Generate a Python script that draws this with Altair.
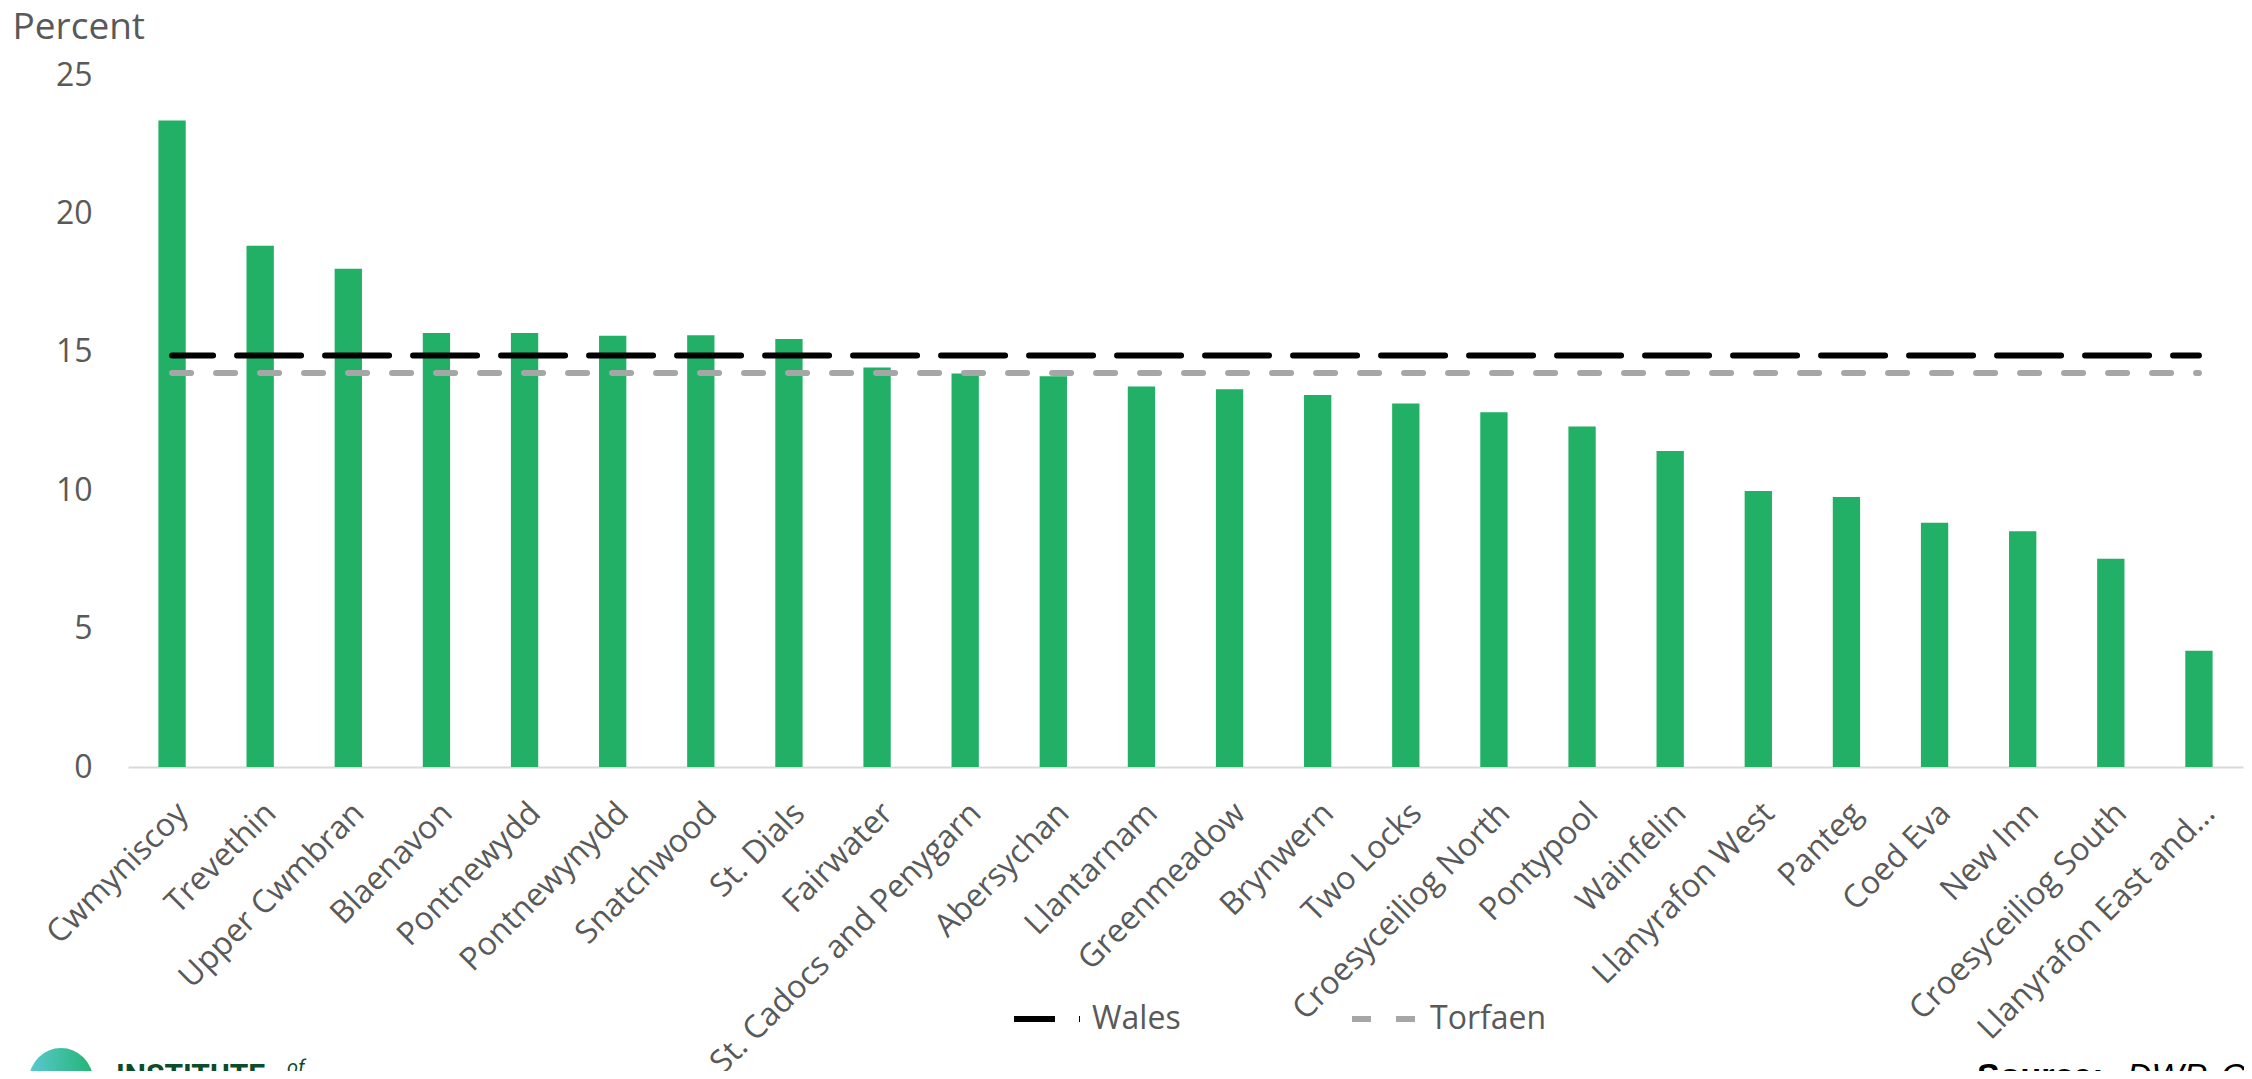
import altair as alt
import pandas as pd

categories = ["Cwmyniscoy", "Trevethin", "Upper Cwmbran", "Blaenavon", "Pontnewydd",
              "Pontnewynydd", "Snatchwood", "St. Dials", "Fairwater", "St. Cadocs and Penygarn",
              "Abersychan", "Llantarnam", "Greenmeadow", "Brynwern", "Two Locks",
              "Croesyceiliog North", "Pontypool", "Wainfelin", "Llanyrafon West", "Panteg",
              "Coed Eva", "New Inn", "Croesyceiliog South", "Llanyrafon East and\u2026"]
values = [23.36, 18.83, 18.0, 15.68, 15.68, 15.58, 15.6, 15.46, 14.43, 14.22,
          14.12, 13.75, 13.65, 13.44, 13.13, 12.82, 12.3, 11.42, 9.97, 9.75,
          8.82, 8.52, 7.52, 4.2]
series_names = ["Wales", "Torfaen"]
series_values = [14.87, 14.23]
y_ticks = [0, 5, 10, 15, 20, 25]

GREY_TXT = "#595959"
FONT = "Open Sans"

# dash patterns (Excel-like: Wales long dash with a shorter first dash, Torfaen short dash)
wales_dash = [41, 24] + [64, 24] * 24
torfaen_dash = [19, 25]

bars_df = pd.DataFrame({"ward": categories, "pct": values})
lines_rows = []
for name, v in zip(series_names, series_values):
    lines_rows.append({"series": name, "ward": categories[0], "pct": v})
    lines_rows.append({"series": name, "ward": categories[-1], "pct": v})
lines_df = pd.DataFrame(lines_rows)

x_enc = alt.X(
    "ward:N", sort=categories,
    scale=alt.Scale(paddingInner=0.69, paddingOuter=0.345),
    axis=alt.Axis(title=None, labelAngle=-45, labelAlign="right", labelBaseline="top",
                  labelPadding=30, labelFont=FONT, labelFontSize=32, labelColor=GREY_TXT,
                  ticks=False, domain=True, domainColor="#d9d9d9", domainWidth=2,
                  labelOverlap=False, labelLimit=0, grid=False),
)
y_enc = alt.Y(
    "pct:Q",
    scale=alt.Scale(domain=[0, 25], nice=False, zero=True),
    axis=alt.Axis(values=y_ticks, title="Percent", titleAngle=0, titleX=-116, titleY=-37,
                  titleAlign="left", titleBaseline="alphabetic", titleFont=FONT,
                  titleFontSize=37, titleFontWeight="normal", titleColor=GREY_TXT,
                  labelFont=FONT, labelFontSize=32, labelColor=GREY_TXT, labelPadding=36,
                  ticks=False, domain=False, grid=False),
)

bars = alt.Chart(bars_df).mark_bar(color="#21B066").encode(x=x_enc, y=y_enc)

legend = alt.Legend(orient="none", legendX=883, legendY=908, direction="horizontal", title=None,
                    symbolType="stroke", symbolStrokeWidth=6, symbolSize=4356,
                    labelFont=FONT, labelFontSize=32, labelColor=GREY_TXT, labelOffset=9,
                    columnPadding=159, padding=0)

lines = alt.Chart(lines_df).mark_line(strokeWidth=6, strokeCap="round").encode(
    x=alt.X("ward:N", sort=categories),
    y=alt.Y("pct:Q"),
    color=alt.Color("series:N", scale=alt.Scale(domain=series_names, range=["#000000", "#a6a6a6"]),
                    legend=legend),
    strokeDash=alt.StrokeDash("series:N", scale=alt.Scale(domain=series_names,
                                                          range=[wales_dash, torfaen_dash]),
                              legend=legend),
    detail="series:N",
)

one = pd.DataFrame({"a": [0]})
logo = alt.Chart(one).mark_circle(
    size=4072, opacity=1,
    color=alt.LinearGradient(gradient="linear", x1=0, x2=1, y1=0.5, y2=0.5,
                             stops=[alt.GradientStop(offset=0, color="#5bc8d1"),
                                    alt.GradientStop(offset=1, color="#22b573")]),
).encode(x=alt.value(-67), y=alt.value(1005))
logo_text = alt.Chart(one).mark_text(
    text="INSTITUTE", font="Roboto", fontSize=30, fontWeight="bold", color="#0b4d2b",
    align="left", baseline="top",
).encode(x=alt.value(-12), y=alt.value(986))
logo_of = alt.Chart(one).mark_text(
    text="of", font="Roboto", fontSize=20, fontStyle="italic", color="#0b4d2b",
    align="left", baseline="top",
).encode(x=alt.value(159), y=alt.value(983))
source_b = alt.Chart(one).mark_text(
    text="Source:", font="Liberation Sans", fontSize=34, fontWeight="bold", color="#000000",
    align="left", baseline="top",
).encode(x=alt.value(1849), y=alt.value(985))
source_i = alt.Chart(one).mark_text(
    text="DWP, C", font="Liberation Sans", fontSize=34, fontStyle="italic", color="#000000",
    align="left", baseline="top",
).encode(x=alt.value(1999), y=alt.value(985))

chart = alt.layer(bars, lines, logo, logo_text, logo_of, source_b, source_i).properties(
    width=2115, height=692,
    autosize=alt.AutoSizeParams(type="none"),
    padding={"left": 120, "top": 67, "right": 1, "bottom": 304},
    background="white",
).configure_view(strokeWidth=0)

chart.save("out.html", embed_options={"renderer": "svg", "actions": False})
